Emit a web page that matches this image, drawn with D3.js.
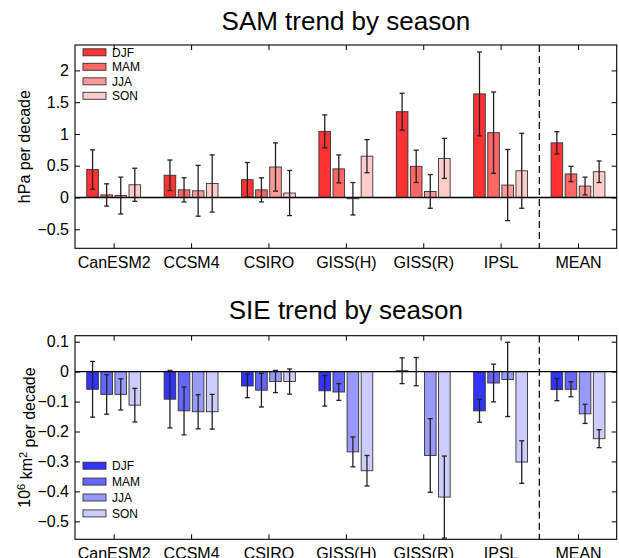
<!DOCTYPE html>
<html>
<head>
<meta charset="utf-8">
<script src="https://cdn.jsdelivr.net/npm/d3@7"></script>
<style>
  body { margin: 0; background: #fff; }
  svg text { font-family: "Liberation Sans", Arial, Helvetica, sans-serif; fill: #000; }
  .axis path { display: none; }
  .axis line { stroke: #000; }
</style>
</head>
<body>
<svg id="chart" width="619" height="558"></svg>
<script>

var models = ["CanESM2", "CCSM4", "CSIRO", "GISS(H)", "GISS(R)", "IPSL", "MEAN"],
    seasons = ["DJF", "MAM", "JJA", "SON"];

// SAM trend (hPa per decade) and error bar half-widths
var samDJF = [0.44, 0.35, 0.28, 1.04, 1.35, 1.63, 0.86],
    samMAM = [0.04, 0.12, 0.12, 0.45, 0.49, 1.02, 0.37],
    samJJA = [0.03, 0.105, 0.48, -0.02, 0.095, 0.195, 0.18],
    samSON = [0.20, 0.22, 0.07, 0.65, 0.615, 0.42, 0.405],
    samErrDJF = [0.31, 0.24, 0.27, 0.26, 0.29, 0.66, 0.175],
    samErrMAM = [0.175, 0.19, 0.19, 0.22, 0.255, 0.64, 0.12],
    samErrJJA = [0.29, 0.40, 0.38, 0.255, 0.265, 0.56, 0.14],
    samErrSON = [0.26, 0.45, 0.355, 0.26, 0.315, 0.59, 0.17];

// SIE trend (10^6 km^2 per decade) and error bar half-widths
var sieDJF = [-0.059, -0.092, -0.048, -0.064, 0.003, -0.131, -0.060],
    sieMAM = [-0.076, -0.131, -0.062, -0.068, 0.000, -0.038, -0.059],
    sieJJA = [-0.076, -0.134, -0.033, -0.268, -0.280, -0.026, -0.141],
    sieSON = [-0.112, -0.134, -0.033, -0.331, -0.419, -0.302, -0.224],
    sieErrDJF = [0.093, 0.096, 0.039, 0.051, 0.043, 0.038, 0.037],
    sieErrMAM = [0.066, 0.080, 0.056, 0.028, 0.047, 0.063, 0.025],
    sieErrJJA = [0.052, 0.057, 0.037, 0.050, 0.123, 0.124, 0.032],
    sieErrSON = [0.056, 0.058, 0.042, 0.051, 0.137, 0.071, 0.030];

var samTicks = [-0.5, 0, 0.5, 1, 1.5, 2],
    sieTicks = [0.1, 0, -0.1, -0.2, -0.3, -0.4, -0.5];

var redColors = ["#ff3333", "#ff6666", "#ff9999", "#ffcccc"],
    blueColors = ["#3333ff", "#6666ff", "#9999ff", "#ccccff"];

var svg = d3.select('#chart'),
    left = 75, right = 616.7;

var x = d3.scaleLinear().domain([0.5, 7.5]).range([left, right]);

function fmt(v) { return v < 0 ? "\u2212" + d3.format("")(-v) : d3.format("")(v); }

function drawPanel(opt) {

    var g = svg.append("g"),
        y = d3.scaleLinear().domain(opt.domain).range([opt.bottom, opt.top]),
        step = 0.182, bw = 0.15;

    // flatten the season arrays into bar records
    var bars = [];
    opt.values.forEach(function(vals, j) {
        vals.forEach(function(v, i) {
            bars.push({model: i, season: j, value: v, err: opt.errors[j][i]});
        });
    });

    function cx(d) { return x(d.model + 1 + (d.season - 1.5) * step); }

    // bars
    g.append("g").selectAll("rect")
        .data(bars)
        .enter().append("rect")
        .attr("x", function(d) { return x(d.model + 1 + (d.season - 1.5) * step - bw / 2); })
        .attr("width", x(bw) - x(0))
        .attr("y", function(d) { return y(Math.max(0, d.value)); })
        .attr("height", function(d) { return Math.abs(y(d.value) - y(0)); })
        .attr("fill", function(d) { return opt.colors[d.season]; })
        .attr("stroke", "#333")
        .attr("stroke-width", 0.9);

    // zero line
    g.append("line")
        .attr("x1", left).attr("x2", right)
        .attr("y1", y(0)).attr("y2", y(0))
        .attr("stroke", "#000").attr("stroke-width", 1.4);

    // error bars
    var eb = g.append("g").attr("stroke", "#222").attr("stroke-width", 1.3)
        .selectAll("g").data(bars).enter().append("g");

    eb.append("line")
        .attr("x1", cx).attr("x2", cx)
        .attr("y1", function(d) { return y(Math.min(d.value + d.err, opt.domain[1])); })
        .attr("y2", function(d) { return y(Math.max(d.value - d.err, opt.domain[0])); });
    eb.append("line")
        .attr("x1", function(d) { return cx(d) - 2.5; }).attr("x2", function(d) { return cx(d) + 2.5; })
        .attr("y1", function(d) { return y(d.value + d.err); }).attr("y2", function(d) { return y(d.value + d.err); });
    eb.append("line")
        .filter(function(d) { return d.value - d.err > opt.domain[0]; })
        .attr("x1", function(d) { return cx(d) - 2.5; }).attr("x2", function(d) { return cx(d) + 2.5; })
        .attr("y1", function(d) { return y(d.value - d.err); }).attr("y2", function(d) { return y(d.value - d.err); });

    // dashed separator before MEAN
    g.append("line")
        .attr("x1", x(6.5)).attr("x2", x(6.5))
        .attr("y1", opt.top).attr("y2", opt.bottom)
        .attr("stroke", "#000").attr("stroke-width", 1.2)
        .attr("stroke-dasharray", "7,4");

    // axes with inward ticks
    g.append("g").attr("class", "axis")
        .attr("transform", "translate(" + left + ",0)")
        .call(d3.axisLeft(y).tickValues(opt.ticks).tickFormat(fmt).tickSizeInner(-5).tickSizeOuter(0).tickPadding(6))
        .selectAll("text").style("font-size", "16px");
    g.append("g").attr("class", "axis")
        .attr("transform", "translate(" + right + ",0)")
        .call(d3.axisRight(y).tickValues(opt.ticks).tickFormat("").tickSizeInner(-5).tickSizeOuter(0));
    g.append("g").attr("class", "axis")
        .attr("transform", "translate(0," + opt.bottom + ")")
        .call(d3.axisBottom(x).tickValues(d3.range(1, 8)).tickFormat(function(d) { return models[d - 1]; })
            .tickSizeInner(-5).tickSizeOuter(0).tickPadding(8))
        .selectAll("text").style("font-size", "16px");
    g.append("g").attr("class", "axis")
        .attr("transform", "translate(0," + opt.top + ")")
        .call(d3.axisTop(x).tickValues(d3.range(1, 8)).tickFormat("").tickSizeInner(-5).tickSizeOuter(0));

    // frame
    g.append("rect")
        .attr("x", left).attr("y", opt.top)
        .attr("width", right - left).attr("height", opt.bottom - opt.top)
        .attr("fill", "none").attr("stroke", "#000").attr("stroke-width", 1.1);

    // title
    svg.append("text")
        .attr("x", (left + right) / 2).attr("y", opt.titleY)
        .attr("text-anchor", "middle")
        .style("font-size", "26px")
        .text(opt.title);

    // y label
    var yl = svg.append("text")
        .attr("transform", "translate(" + 30 + "," + ((opt.top + opt.bottom) / 2) + ") rotate(-90)")
        .attr("text-anchor", "middle")
        .style("font-size", "16px");
    opt.ylabel(yl);

    // legend
    var lg = g.append("g").selectAll("g")
        .data(seasons).enter().append("g")
        .attr("transform", function(d, i) { return "translate(83," + (opt.legendY + i * opt.legendStep) + ")"; });
    lg.append("rect")
        .attr("x", 0).attr("y", -3.5).attr("width", 23).attr("height", 7)
        .attr("fill", function(d, i) { return opt.colors[i]; })
        .attr("stroke", "#333").attr("stroke-width", 0.9);
    lg.append("text")
        .attr("x", 29).attr("y", 0).attr("dy", "0.36em")
        .style("font-size", "12px")
        .text(function(d) { return d; });
}

drawPanel({
    title: "SAM trend by season", titleY: 30,
    top: 45, bottom: 248.3, domain: [-0.8, 2.4], ticks: samTicks,
    values: [samDJF, samMAM, samJJA, samSON],
    errors: [samErrDJF, samErrMAM, samErrJJA, samErrSON],
    colors: redColors,
    legendY: 52.3, legendStep: 14.5,
    ylabel: function(t) { t.text("hPa per decade"); }
});

drawPanel({
    title: "SIE trend by season", titleY: 319,
    top: 335.7, bottom: 539.3, domain: [-0.56, 0.12], ticks: sieTicks,
    values: [sieDJF, sieMAM, sieJJA, sieSON],
    errors: [sieErrDJF, sieErrMAM, sieErrJJA, sieErrSON],
    colors: blueColors,
    legendY: 465.7, legendStep: 15.9,
    ylabel: function(t) {
        t.append("tspan").text("10");
        t.append("tspan").attr("dy", "-0.45em").style("font-size", "11px").text("6");
        t.append("tspan").attr("dy", "0.45em").text(" km");
        t.append("tspan").attr("dy", "-0.45em").style("font-size", "11px").text("2");
        t.append("tspan").attr("dy", "0.45em").text(" per decade");
    }
});

</script>
</body>
</html>
